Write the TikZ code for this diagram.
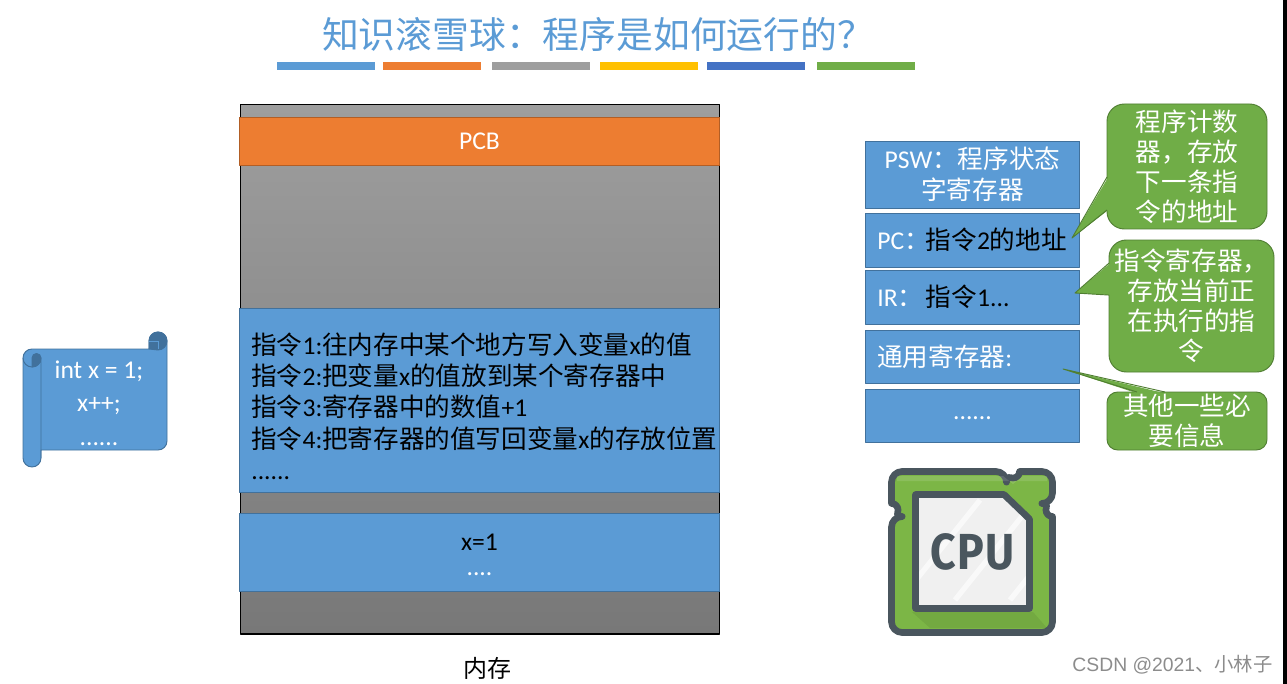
\documentclass[tikz,border=0pt]{standalone}
\usepackage{fontspec}
\setmainfont{Carlito}
\newfontfamily\cjk{Noto Sans CJK SC}
\newfontfamily\markfont{Liberation Sans}
\newfontfamily\chipfont{Fira Sans}[UprightFont=* Bold]
\newcommand{\zh}[1]{{\cjk #1}}
\usetikzlibrary{positioning}
\definecolor{blockblue}{HTML}{5B9BD5}
\definecolor{blockline}{HTML}{41719C}
\definecolor{pcborange}{HTML}{ED7D31}
\definecolor{noteGreen}{HTML}{70AD47}
\definecolor{noteline}{HTML}{507E32}
\definecolor{chipdark}{HTML}{4A565E}
\definecolor{chipgreen}{HTML}{7CB646}

\begin{document}
\begin{tikzpicture}[x=0.75pt,y=-0.75pt,line join=round]

    \tikzstyle{every node}=[outer sep=0pt,inner sep=0pt]
    \tikzstyle{big}=[font=\fontsize{19.2}{23.5}\selectfont]
    \tikzstyle{block}=[big,draw=blockline,fill=blockblue,line width=0.6pt,text=white,minimum width=360.25pt,align=center]
    \tikzstyle{reg}=[big,draw=blockline,fill=blockblue,line width=0.6pt,text=white,minimum width=160.75pt,align=center]
    \tikzstyle{regleft}=[reg,align=left,text width=142.75pt,inner xsep=9pt]
    \tikzstyle{note}=[font=\fontsize{19.2}{22.5}\selectfont,draw=noteline,fill=noteGreen,line width=0.7pt,rounded corners=13pt,text=white,align=center]
    \tikzstyle{bar}=[minimum width=73.5pt,minimum height=6pt]

    \useasboundingbox (0,0) rectangle (1287,684);

    % title and the coloured bars
    \node[text=blockblue,font=\cjk\fontsize{27.6}{30}\selectfont] (title) at (598,35) {知识滚雪球^^^^ff1a程序是如何运行的^^^^ff1f};
    \node[bar,fill=blockblue]          (bar_1) at (326,66) {};
    \node[bar,fill=pcborange]          (bar_2) at (431.5,66) {};
    \node[bar,fill=black!38]           (bar_3) at (541,66) {};
    \node[bar,fill={rgb,255:red,255;green,192;blue,0}] (bar_4) at (649,66) {};
    \node[bar,fill={rgb,255:red,68;green,114;blue,196}] (bar_5) at (756,66) {};
    \node[bar,fill=noteGreen]          (bar_6) at (865.5,66) {};

    % scroll with the program
    \filldraw[draw=blockline,fill=blockblue,line width=0.7pt]
      (23,358) arc[start angle=180,end angle=90,radius=6.75pt] -- (149,349) -- (149,341)
      arc[start angle=180,end angle=0,radius=6.75pt] -- (167,441)
      arc[start angle=0,end angle=-90,radius=6.75pt] -- (41,450) -- (41,458)
      arc[start angle=0,end angle=-180,radius=6.75pt] -- cycle;
    \filldraw[draw=blockline,fill=blockline,line width=0.7pt]
      (149,349) -- (149,341) arc[start angle=180,end angle=0,radius=6.75pt]
      arc[start angle=0,end angle=-90,radius=6.75pt] -- (149,349) -- cycle;
    \draw[blockblue,line width=0.7pt] (158,341) -- (158,349) (149,341) -- (158,341);
    \filldraw[draw=blockline,fill=blockline,line width=0.7pt]
      (32,367) -- (32,358) arc[start angle=180,end angle=0,radius=3.4pt] -- (41,358)
      arc[start angle=0,end angle=-90,radius=6.75pt] -- cycle;
    \draw[blockline,line width=0.7pt] (23,358) arc[start angle=180,end angle=360,radius=6.75pt] -- (41,458);
    \node[text=white,align=center,font=\fontsize{19.2}{25}\selectfont] (program) at (99,403) {int x = 1;\\x++;\\......};

    % memory
    \node[draw=black,line width=0.9pt,top color=black!38,bottom color=black!53,minimum width=359.25pt,minimum height=397.1pt] (mem) at (480,369.25) {};
    \node[block,fill=pcborange,draw=pcborange!75!black,minimum height=35.6pt] (pcb) at (479.5,141.2) {PCB};
    \node[block,minimum height=138pt] (instr) at (479.5,400) {};
    \node[big,text=black,align=left,anchor=west,yshift=-4.5pt] (instr_text) [right=9pt of instr.west] {%
      \zh{指令}1:\zh{往内存中某个地方写入变量}x\zh{的值}\\
      \zh{指令}2:\zh{把变量}x\zh{的值放到某个寄存器中}\\
      \zh{指令}3:\zh{寄存器中的数值}+1\\
      \zh{指令}4:\zh{把寄存器的值写回变量}x\zh{的存放位置}\\
      ......};
    \node[block,minimum height=58.5pt] (var_x) at (479.5,552) {};
    \node[text=white,align=center,font=\fontsize{19.2}{19}\selectfont] (var_text) [below=15.5pt of var_x.north] {\textcolor{black}{x=1}\\....};
    \node[font=\cjk\fontsize{18}{20}\selectfont,text=black] (mem_label) at (487.5,668) {内存};

    % registers
    \node[reg,minimum height=50.25pt] (psw) at (972.5,174.5) {PSW\zh{^^^^ff1a程序状态}\\\zh{字寄存器}};
    \node[regleft,minimum height=40.5pt]  (pc)   [below=3.75pt of psw] {PC\zh{^^^^ff1a}\kern-3pt\textcolor{black}{\zh{指令}2\zh{的地址}}};
    \node[regleft,minimum height=40.5pt]  (ir)   [below=2.25pt of pc]  {IR\zh{^^^^ff1a}\hspace{2pt}\textcolor{black}{\zh{指令}1...}};
    \node[regleft,minimum height=39.75pt] (gpr)  [below=4.5pt of ir]   {\zh{通用寄存器}:};
    \node[reg,minimum height=39.75pt] (more) [below=4.5pt of gpr]  {\raisebox{-6pt}{......}};

    % notes
    \coordinate (pc_tip) at (1072,238);
    \coordinate (ir_tip) at (1075,293);
    \coordinate (gpr_tip) at (1063,369);
    \node[note,minimum width=120pt,minimum height=93.75pt] (pc_note) at (1187,166.5) {\zh{程序计数}\\\zh{器^^^^ff0c存放}\\\zh{下一条指}\\\zh{令的地址}};
    \node[note,minimum width=123.75pt,minimum height=99pt] (ir_note) at (1191.5,306) {\zh{指令寄存器^^^^ff0c}\\\zh{存放当前正}\\\zh{在执行的指}\\\zh{令}};
    \node[note,minimum width=120pt,minimum height=43.5pt,rounded corners=8pt] (gpr_note) at (1187,421) {\zh{其他一些必}\\\zh{要信息}};

    \fill[noteGreen] ([xshift=1pt,yshift=-7.9pt]pc_note.west) -- (pc_tip) -- ([xshift=1pt,yshift=-32.6pt]pc_note.west) -- cycle;
    \draw[noteline,line width=0.7pt] ([yshift=-7.9pt]pc_note.west) -- (pc_tip) -- ([yshift=-32.6pt]pc_note.west);
    \fill[noteGreen] ([xshift=1pt,yshift=32.2pt]ir_note.west) -- (ir_tip) -- ([xshift=1pt,yshift=8.2pt]ir_note.west) -- cycle;
    \draw[noteline,line width=0.7pt] ([yshift=32.2pt]ir_note.west) -- (ir_tip) -- ([yshift=8.2pt]ir_note.west);
    \fill[noteGreen] ([xshift=-37.5pt,yshift=-1pt]gpr_note.north) -- (gpr_tip) -- ([xshift=-16.5pt,yshift=-1pt]gpr_note.north) -- cycle;
    \draw[noteline,line width=0.7pt] ([xshift=-37.5pt]gpr_note.north) -- (gpr_tip) -- ([xshift=-16.5pt]gpr_note.north);

    % chip
    \filldraw[draw=chipdark,fill=chipgreen,line width=5pt]
      (1019.5,471.5) [rounded corners=8pt] -- (1052.5,471.5) -- (1052.5,503.5) [sharp corners]
      arc[start angle=90,end angle=270,radius=4.9pt]
      [rounded corners=8pt] -- (1052.5,632.5) -- (891.5,632.5) -- (891.5,516.5) [sharp corners]
      arc[start angle=-90,end angle=90,radius=4.9pt]
      [rounded corners=8pt] -- (891.5,471.5) -- (1006.5,471.5) [sharp corners]
      arc[start angle=180,end angle=360,radius=4.9pt] -- cycle;
    \fill[white,opacity=0.12] (897,476) -- (1003,476) -- (1013,484) -- (1023,476) -- (1047,476) -- (1047,481) -- (897,481) -- cycle;
    \fill[black,opacity=0.07] (912,612) -- (1033,612) -- (1047,628) -- (930,628) -- cycle;
    \begin{scope}
      \clip (915.5,494.5) -- (1004,494.5) -- (1029.5,519) -- (1029.5,608.5) -- (915.5,608.5) -- cycle;
      \fill[black!6] (915,494) rectangle (1030,609);
      \foreach \s in {0,55,110,165}
        \draw[white,line width=4pt,opacity=0.6] (900+\s,600) -- (980+\s,500);
    \end{scope}
    \draw[chipdark,line width=5pt] (915.5,494.5) -- (1004,494.5) -- (1029.5,519) -- (1029.5,608.5) -- (915.5,608.5) -- cycle;
    \node[text=chipdark,font=\chipfont\fontsize{38}{40}\selectfont,xscale=0.88] (chip_label) at (972.5,551.5) {C\kern1.5pt P\kern1.5pt U};

    \node[text=black!45,font=\markfont\fontsize{14.5}{16}\selectfont] (watermark) at (1172.5,665) {CSDN @2021\zh{、小林子}};
    \fill[black] (1282.5,0) rectangle (1287,684);
  \end{tikzpicture}
\end{document}
